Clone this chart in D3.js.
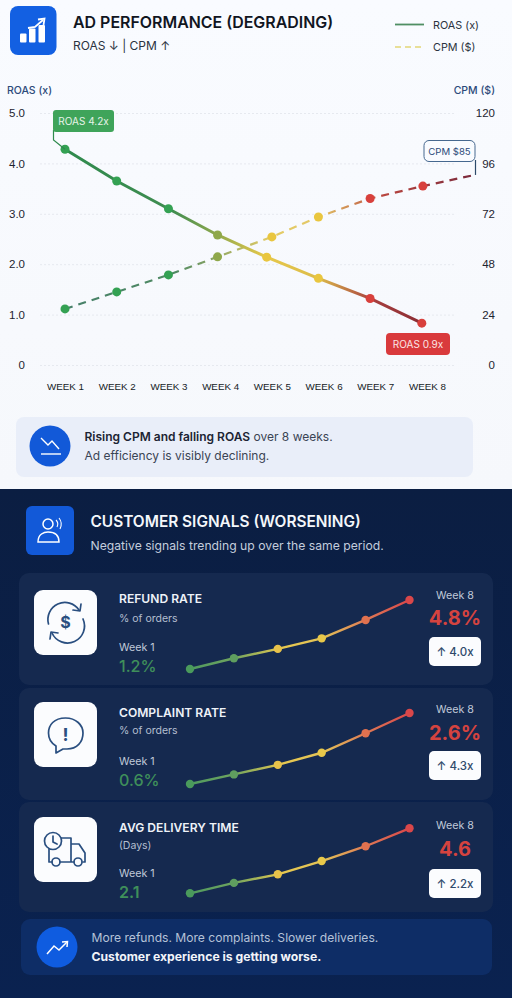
<!DOCTYPE html>
<html>
<head>
	<meta charset="utf-8">
	<title>Ad performance and customer signals</title>
	<script src="https://d3js.org/d3.v7.min.js"></script>
	<style>
		html, body { margin: 0; padding: 0; background: #0b1f45; }
		svg { display: block; font-family: Inter, "Noto Sans", sans-serif; }
		.grid .domain, .right .domain, .weeks .domain { display: none; }
		.grid line { stroke: #e6e9ef; stroke-dasharray: 2 2; }
		.grid text, .right text { font-size: 11.5px; fill: #1d2430; }
		.weeks text { font-size: 9.8px; font-weight: 500; fill: #151b26; }
	</style>
</head>
<body>
	<div id="chart"></div>
	<script>
		// values
		var weekTicks = [1, 2, 3, 4, 5, 6, 7, 8];
		var roasTicks = [0, 1, 2, 3, 4, 5];
		var cpmTicks = [0, 24, 48, 72, 96, 120];

		// the dots do not sit exactly on the week labels, so they keep their own week position
		var roasWeeks = [1, 2, 3, 3.95, 4.9, 5.9, 6.9, 7.9];
		var roasValues = [4.28, 3.65, 3.1, 2.58, 2.14, 1.72, 1.32, 0.83];
		var cpmWeeks = [1, 2, 3, 3.95, 5, 5.9, 6.9, 7.92];
		var cpmValues = [26.7, 34.8, 42.9, 51.5, 61, 70.5, 79.3, 85.2];
		var cpmEnd = [8.92, 90.5];

		var sparkSteps = [1, 2, 3, 4, 5, 6];
		var refundRate = [1.2, 1.76, 2.25, 2.8, 3.76, 4.8];
		var complaintRate = [0.6, 0.87, 1.14, 1.48, 2.03, 2.6];
		var deliveryTime = [2.1, 2.5, 2.83, 3.34, 3.91, 4.6];

		var signalNames = ["REFUND RATE", "COMPLAINT RATE", "AVG DELIVERY TIME"];
		var signalUnits = ["% of orders", "% of orders", "(Days)"];
		var signalStart = ["1.2%", "0.6%", "2.1"];
		var signalEnd = ["4.8%", "2.6%", "4.6"];
		var signalRatio = ["↑ 4.0x", "↑ 4.3x", "↑ 2.2x"];

		var w = 512
		var h = 998

		var svg = d3.select("#chart")
			.append("svg")
			.attr("width", w)
			.attr("height", h);

		var defs = svg.append("defs");

		function addGradient(id, x1, x2, stops) {
			var g = defs.append("linearGradient")
				.attr("id", id)
				.attr("gradientUnits", "userSpaceOnUse")
				.attr("x1", x1).attr("x2", x2)
				.attr("y1", 0).attr("y2", 0);
			stops.forEach(function(s) {
				g.append("stop").attr("offset", s[0]).attr("stop-color", s[1]);
			});
		}

		function addVertical(id, topColor, bottomColor) {
			var g = defs.append("linearGradient")
				.attr("id", id)
				.attr("x1", 0).attr("x2", 0).attr("y1", 0).attr("y2", 1);
			g.append("stop").attr("offset", 0).attr("stop-color", topColor);
			g.append("stop").attr("offset", 1).attr("stop-color", bottomColor);
		}

		addVertical("darkBg", "#0b1e42", "#0a2250");
		addVertical("lightBg", "#f9fbff", "#f6f8fc");

		// backgrounds
		svg.append("rect").attr("width", w).attr("height", 489).attr("fill", "url(#lightBg)");
		svg.append("rect").attr("y", 489).attr("width", w).attr("height", 509).attr("fill", "url(#darkBg)");

		// ---------- top panel ----------
		var adPanel = svg.append("g");

		adPanel.append("rect").attr("x", 10).attr("y", 6).attr("width", 46.5).attr("height", 49).attr("rx", 8).attr("fill", "#1360e2");
		[[20, 33.5, 6.5, 9], [29, 28.5, 6.5, 14], [38.5, 25, 6.5, 17.5]].forEach(function(b) {
			adPanel.append("rect").attr("x", b[0]).attr("y", b[1]).attr("width", b[2]).attr("height", b[3]).attr("rx", 1).attr("fill", "#fff");
		});
		adPanel.append("path").attr("d", "M28 28 L35 27 L43 20").attr("fill", "none").attr("stroke", "#fff").attr("stroke-width", 1.8);
		adPanel.append("path").attr("d", "M38 19.5 L44.5 18.5 L43.5 25").attr("fill", "none").attr("stroke", "#fff").attr("stroke-width", 1.8);

		adPanel.append("text").attr("x", 73).attr("y", 28)
			.attr("font-size", 15.95).attr("font-weight", 600).attr("fill", "#11161f")
			.text("AD PERFORMANCE (DEGRADING)");
		adPanel.append("text").attr("x", 73).attr("y", 50)
			.attr("font-size", 12).attr("fill", "#2b3340")
			.text("ROAS ↓ | CPM ↑");

		// legend
		adPanel.append("line").attr("x1", 395).attr("x2", 424).attr("y1", 24.5).attr("y2", 24.5)
			.attr("stroke", "#4f8f63").attr("stroke-width", 1.8);
		adPanel.append("line").attr("x1", 395).attr("x2", 424).attr("y1", 47).attr("y2", 47)
			.attr("stroke", "#e8df98").attr("stroke-width", 1.8).attr("stroke-dasharray", "6 4");
		adPanel.append("text").attr("x", 433).attr("y", 29).attr("font-size", 10.8).attr("fill", "#2b3340").text("ROAS (x)");
		adPanel.append("text").attr("x", 433).attr("y", 51).attr("font-size", 10.8).attr("fill", "#2b3340").text("CPM ($)");

		adPanel.append("text").attr("x", 7).attr("y", 94).attr("font-size", 10.5).attr("font-weight", 500).attr("fill", "#2c4a7a").text("ROAS (x)");
		adPanel.append("text").attr("x", 495).attr("y", 94).attr("text-anchor", "end").attr("font-size", 10.5).attr("font-weight", 500).attr("fill", "#2c4a7a").text("CPM ($)");

		// scales
		var x = d3.scaleLinear().domain([1, 8]).range([65, 427]);
		var yRoas = d3.scaleLinear().domain([0, 5]).range([365, 113]);
		var yCpm = d3.scaleLinear().domain([0, 120]).range([365, 113]);

		var oneDecimal = function(d) { return d === 0 ? "0" : d3.format(".1f")(d); };

		adPanel.append("g").attr("class", "grid")
			.attr("transform", "translate(40,0)")
			.call(d3.axisLeft(yRoas).tickValues(roasTicks).tickSize(-415).tickPadding(15).tickFormat(oneDecimal));

		adPanel.append("g").attr("class", "right")
			.attr("transform", "translate(495,0)")
			.call(d3.axisRight(yCpm).tickValues(cpmTicks).tickSize(0))
			.selectAll("text").attr("x", 0).attr("text-anchor", "end");

		adPanel.append("g").attr("class", "weeks")
			.attr("transform", "translate(0,378)")
			.call(d3.axisBottom(x).tickValues(weekTicks).tickSize(0).tickPadding(5).tickFormat(function(d) { return "WEEK " + d; }));

		// lines
		addGradient("roasGrad", x(1), x(7.9), [[0, "#2f8a4d"], [0.3, "#3f8c50"], [0.56, "#e6c84a"], [0.71, "#dcbc4a"], [0.86, "#a8403f"], [1, "#8a2c33"]]);
		addGradient("cpmGrad", x(1), x(8.92), [[0, "#47806a"], [0.27, "#4f8a62"], [0.5, "#e3cc66"], [0.62, "#e3c766"], [0.78, "#b8453f"], [1, "#7a2a3c"]]);

		var dotColor = d3.scaleLinear()
			.domain([1, 3, 3.95, 4.9, 5.9, 6.9, 8])
			.range(["#34a153", "#34a153", "#8fa84a", "#e9c63f", "#e9c63f", "#d8403c", "#d8403c"]);

		var line = d3.line()
			.x(function(d) { return x(d[0]); })
			.y(function(d) { return d[1]; });

		var cpmPoints = cpmWeeks.map(function(wk, i) { return [wk, yCpm(cpmValues[i])]; });
		var roasPoints = roasWeeks.map(function(wk, i) { return [wk, yRoas(roasValues[i])]; });

		adPanel.append("path").datum(cpmPoints.concat([[cpmEnd[0], yCpm(cpmEnd[1])]]))
			.attr("d", line).attr("fill", "none")
			.attr("stroke", "url(#cpmGrad)").attr("stroke-width", 2.2).attr("stroke-dasharray", "8 6");
		adPanel.append("path").datum(roasPoints)
			.attr("d", line).attr("fill", "none")
			.attr("stroke", "url(#roasGrad)").attr("stroke-width", 3);

		[cpmPoints, roasPoints].forEach(function(points) {
			adPanel.append("g").selectAll("circle")
				.data(points)
				.enter()
				.append("circle")
				.attr("cx", function(d) { return x(d[0]); })
				.attr("cy", function(d) { return d[1]; })
				.attr("r", 4.5)
				.attr("fill", function(d) { return dotColor(d[0]); });
		});

		// callouts on the lines
		adPanel.append("path")
			.attr("d", "M53.5 130 V140 L" + x(roasWeeks[0]) + " " + yRoas(roasValues[0]))
			.attr("fill", "none").attr("stroke", "#2f8a4d").attr("stroke-width", 1.2);
		adPanel.append("rect").attr("x", 53).attr("y", 110).attr("width", 61).attr("height", 22).attr("rx", 3).attr("fill", "#3fa45a");
		adPanel.append("text").attr("x", 83.5).attr("y", 125).attr("text-anchor", "middle").attr("font-size", 10).attr("fill", "#e6f3e8").text("ROAS 4.2x");

		adPanel.append("path")
			.attr("d", "M475.5 160 V" + yCpm(cpmEnd[1]))
			.attr("fill", "none").attr("stroke", "#2c4a6a").attr("stroke-width", 1.2);
		adPanel.append("rect").attr("x", 424).attr("y", 140.5).attr("width", 51).attr("height", 21).attr("rx", 5)
			.attr("fill", "#f9fbff").attr("stroke", "#46688f").attr("stroke-width", 1);
		adPanel.append("text").attr("x", 449.5).attr("y", 154.5).attr("text-anchor", "middle").attr("font-size", 9.6).attr("fill", "#2c4a7a").text("CPM $85");

		adPanel.append("rect").attr("x", 386).attr("y", 333).attr("width", 64).attr("height", 22).attr("rx", 4).attr("fill", "#d93a3c");
		adPanel.append("text").attr("x", 418).attr("y", 348).attr("text-anchor", "middle").attr("font-size", 10).attr("fill", "#fbe6e4").text("ROAS 0.9x");

		// note under the chart
		adPanel.append("rect").attr("x", 16).attr("y", 417).attr("width", 457).attr("height", 60).attr("rx", 8).attr("fill", "#e9eef9");
		adPanel.append("circle").attr("cx", 50).attr("cy", 446).attr("r", 20.5).attr("fill", "#1259d8");
		adPanel.append("path").attr("d", "M41 438 L48 445 L52 441 L59 449").attr("fill", "none").attr("stroke", "#fff").attr("stroke-width", 1.4);
		adPanel.append("line").attr("x1", 41).attr("x2", 61).attr("y1", 454).attr("y2", 454).attr("stroke", "#fff").attr("stroke-width", 1.4);

		var note = adPanel.append("text").attr("x", 84.5).attr("y", 441).attr("font-size", 12).attr("fill", "#1c2433");
		note.append("tspan").attr("font-weight", 600).text("Rising CPM and falling ROAS");
		note.append("tspan").attr("fill", "#3a4454").text(" over 8 weeks.");
		adPanel.append("text").attr("x", 84.5).attr("y", 459.5).attr("font-size", 12).attr("fill", "#3a4454").text("Ad efficiency is visibly declining.");

		// ---------- dark panel ----------
		var signalPanel = svg.append("g");

		signalPanel.append("rect").attr("x", 26).attr("y", 506).attr("width", 48).attr("height", 49).attr("rx", 6).attr("fill", "#1259d8");
		signalPanel.append("circle").attr("cx", 48).attr("cy", 524).attr("r", 5).attr("fill", "none").attr("stroke", "#fff").attr("stroke-width", 1.5);
		signalPanel.append("path").attr("d", "M38 542 C38 534 44 532 48 532 C53 532 59 534 59 542 Z").attr("fill", "none").attr("stroke", "#fff").attr("stroke-width", 1.5);
		signalPanel.append("path").attr("d", "M56 520 Q59 523 57 527 M59 518 Q63 523 60 529").attr("fill", "none").attr("stroke", "#fff").attr("stroke-width", 1.1);

		signalPanel.append("text").attr("x", 90.5).attr("y", 527)
			.attr("font-size", 15.4).attr("font-weight", 600).attr("fill", "#f4f7fb")
			.text("CUSTOMER SIGNALS (WORSENING)");
		signalPanel.append("text").attr("x", 90.5).attr("y", 550)
			.attr("font-size", 12.2).attr("fill", "#c3cddd")
			.text("Negative signals trending up over the same period.");

		// one row per signal
		var cardTop = [573, 688, 802];
		var cardHeight = [112, 112, 110];
		var iconTop = [590, 702, 817];
		var sparkTop = [600, 713, 828.3];
		var sparkBottom = [669, 784, 893.3];
		var seriesBySignal = [refundRate, complaintRate, deliveryTime];

		var sparkX = d3.scalePoint().domain(sparkSteps).range([190, 409.5]);
		addGradient("sparkGrad", 190, 409.5, [[0, "#4f9a5f"], [0.2, "#6fa45f"], [0.42, "#e6c850"], [0.61, "#e3c257"], [0.8, "#de7a55"], [1, "#d9474a"]]);
		var sparkColor = d3.scaleOrdinal().domain(sparkSteps)
			.range(["#4a9a5c", "#5f9e5f", "#e8c24a", "#e8c84a", "#e0714f", "#d9474a"]);

		seriesBySignal.forEach(function(series, i) {
			var t = cardTop[i];
			var row = signalPanel.append("g");

			row.append("rect").attr("x", 19).attr("y", t).attr("width", 474).attr("height", cardHeight[i]).attr("rx", 10).attr("fill", "#15294f");
			row.append("rect").attr("x", 34).attr("y", iconTop[i]).attr("width", 63).attr("height", 65).attr("rx", 9).attr("fill", "#fbfcfe");

			row.append("text").attr("x", 119).attr("y", [603, 717, 832][i])
				.attr("font-size", 12.1).attr("font-weight", 600).attr("fill", "#eef2f8").text(signalNames[i]);
			row.append("text").attr("x", 119).attr("y", [622, 734, 849][i])
				.attr("font-size", 10.5).attr("fill", "#b4bfd0").text(signalUnits[i]);
			row.append("text").attr("x", 119).attr("y", [651, 765, 877][i])
				.attr("font-size", 10.7).attr("fill", "#c0cad9").text("Week 1");
			row.append("text").attr("x", 119).attr("y", [672, 786, 898][i])
				.attr("font-size", 16.1).attr("font-weight", i == 2 ? 600 : 500).attr("fill", "#3f8f5a").text(signalStart[i]);

			row.append("text").attr("x", 455).attr("y", [599, 713, 829][i]).attr("text-anchor", "middle")
				.attr("font-size", 10.7).attr("fill", "#c0cad9").text("Week 8");
			row.append("text").attr("x", 455).attr("y", [625, 740, 856][i]).attr("text-anchor", "middle")
				.attr("font-size", 20).attr("font-weight", 700).attr("fill", "#d5433f").text(signalEnd[i]);

			var badgeY = [637, 751, 869][i];
			row.append("rect").attr("x", 429).attr("y", badgeY).attr("width", 52).attr("height", 29).attr("rx", 5).attr("fill", "#fbfcfe");
			row.append("text").attr("x", 455).attr("y", badgeY + 18.5).attr("text-anchor", "middle")
				.attr("font-size", 11.5).attr("font-weight", 500).attr("fill", "#2f4a6b").text(signalRatio[i]);

			// sparkline, each row has its own scale
			var sparkY = d3.scaleLinear().domain([series[0], series[5]]).range([sparkBottom[i], sparkTop[i]]);
			var sparkLine = d3.line()
				.x(function(d, k) { return sparkX(sparkSteps[k]); })
				.y(function(d) { return sparkY(d); });

			row.append("path").datum(series).attr("d", sparkLine)
				.attr("fill", "none").attr("stroke", "url(#sparkGrad)").attr("stroke-width", 2.4);
			row.append("g").selectAll("circle")
				.data(series)
				.enter()
				.append("circle")
				.attr("cx", function(d, k) { return sparkX(sparkSteps[k]); })
				.attr("cy", function(d) { return sparkY(d); })
				.attr("r", 4.2)
				.attr("fill", function(d, k) { return sparkColor(sparkSteps[k]); });
		});

		// row icons
		var iconInk = "#2a4f80";
		function inkStroke(sel) {
			return sel.attr("fill", "none").attr("stroke", iconInk).attr("stroke-width", 1.7).attr("stroke-linecap", "round").attr("stroke-linejoin", "round");
		}

		// refund
		inkStroke(signalPanel.append("path")).attr("d", "M48.5 624 A17 17 0 0 1 79 610 M83 619 A17 17 0 0 1 52 633");
		inkStroke(signalPanel.append("path")).attr("d", "M81 604 L80 611 L73 610 M50 639 L51 632 L58 633");
		signalPanel.append("text").attr("x", 65.5).attr("y", 628).attr("text-anchor", "middle").attr("font-size", 16).attr("font-weight", 700).attr("fill", iconInk).text("$");

		// complaint
		inkStroke(signalPanel.append("path")).attr("d", "M65.5 718 C54 718 48.5 725 48.5 733 C48.5 739 51 743 56 746 L56 753 L63 749 C65 749 66 749 67 749 C77 749 83 742 83 733 C83 725 76 718 65.5 718 Z");
		signalPanel.append("text").attr("x", 65.5).attr("y", 741).attr("text-anchor", "middle").attr("font-size", 18).attr("font-weight", 700).attr("fill", iconInk).text("!");

		// delivery
		inkStroke(signalPanel.append("path")).attr("d", "M60 838 H71 V862 H60 M71 844 H79 L85 853 V862 H83 M49 848 V862 H52 M72 862 H74");
		inkStroke(signalPanel.append("circle")).attr("cx", 56).attr("cy", 862).attr("r", 4);
		inkStroke(signalPanel.append("circle")).attr("cx", 78).attr("cy", 862).attr("r", 4);
		signalPanel.append("circle").attr("cx", 53).attr("cy", 841).attr("r", 8.5).attr("fill", "#fbfcfe").attr("stroke", iconInk).attr("stroke-width", 1.7);
		inkStroke(signalPanel.append("path")).attr("d", "M53 836 V842 L57 844");

		// footer note
		signalPanel.append("rect").attr("x", 21).attr("y", 919).attr("width", 471).attr("height", 56).attr("rx", 9).attr("fill", "#0e2d66");
		signalPanel.append("circle").attr("cx", 57).attr("cy", 947).attr("r", 20.5).attr("fill", "#0f5ce0");
		signalPanel.append("path").attr("d", "M47 954 L54 946 L59 950 L67 942").attr("fill", "none").attr("stroke", "#fff").attr("stroke-width", 1.5);
		signalPanel.append("path").attr("d", "M62 942 L67.5 941.5 L67 947").attr("fill", "none").attr("stroke", "#fff").attr("stroke-width", 1.5);
		signalPanel.append("text").attr("x", 91.5).attr("y", 942).attr("font-size", 12.1).attr("fill", "#b5c2d8")
			.text("More refunds. More complaints. Slower deliveries.");
		signalPanel.append("text").attr("x", 91.5).attr("y", 961).attr("font-size", 12.2).attr("font-weight", 700).attr("fill", "#f1f4f9")
			.text("Customer experience is getting worse.");
	</script>
</body>
</html>
